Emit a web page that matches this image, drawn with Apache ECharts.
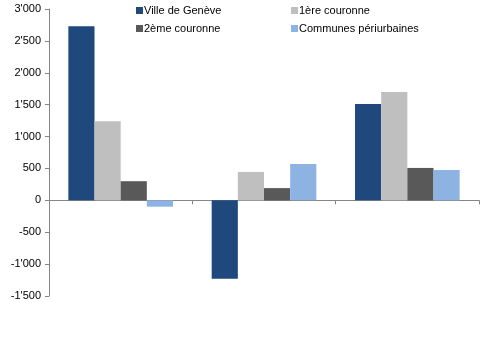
<!DOCTYPE html>
<html><head><meta charset="utf-8">
<script src="https://cdn.jsdelivr.net/npm/echarts@6/dist/echarts.min.js"></script>
<style>html,body{margin:0;padding:0;background:#fff}#c{width:487px;height:340px}</style>
</head><body><div id="c"></div>
<script>
var categories = ['A', 'B', 'C'];
var seriesNames = ['Ville de Genève', '1ère couronne', '2ème couronne', 'Communes périurbaines'];
var villeGeneve = [2730, -1230, 1510];
var premiereCouronne = [1240, 445, 1700];
var deuxiemeCouronne = [300, 192, 508];
var communesPeriurbaines = [-100, 570, 476];
var yTicks = [-1500, -1000, -500, 0, 500, 1000, 1500, 2000, 2500, 3000];

var colors = ['#1F497D', '#BFBFBF', '#595959', '#8DB3E2'];
var allData = [villeGeneve, premiereCouronne, deuxiemeCouronne, communesPeriurbaines];

function fmt(v) {
  var s = Math.abs(v).toString();
  var out = s.replace(/\B(?=(\d{3})+(?!\d))/g, "'");
  return (v < 0 ? '-' : '') + out;
}

var chart = echarts.init(document.getElementById('c'), null, {renderer: 'canvas'});
var font = 'Liberation Sans, Arial, sans-serif';
var legendText = {fontFamily: font, fontSize: 11, color: '#000', padding: [0, 0, 0, -4]};
chart.setOption({
  animation: false,
  color: colors,
  grid: {left: 49, right: 8, top: 9, bottom: 44, containLabel: false},
  legend: [{
    data: [seriesNames[0], seriesNames[2]],
    orient: 'vertical', left: 136, top: 5, padding: 0,
    itemWidth: 7, itemHeight: 7, itemGap: 7, icon: 'rect',
    textStyle: legendText
  }, {
    data: [seriesNames[1], seriesNames[3]],
    orient: 'vertical', left: 291, top: 5, padding: 0,
    itemWidth: 7, itemHeight: 7, itemGap: 7, icon: 'rect',
    textStyle: legendText
  }],
  xAxis: {
    type: 'category', data: categories,
    axisLine: {onZero: true, lineStyle: {color: '#868686', width: 1}},
    axisTick: {show: true, alignWithLabel: false, length: 4, lineStyle: {color: '#868686'}},
    axisLabel: {show: false},
    splitLine: {show: false}
  },
  yAxis: {
    type: 'value', min: yTicks[0], max: yTicks[yTicks.length - 1], interval: 500,
    axisLine: {show: true, lineStyle: {color: '#868686'}},
    axisTick: {show: true, length: 4, lineStyle: {color: '#868686'}},
    axisLabel: {formatter: fmt, fontFamily: font, fontSize: 11, color: '#000', margin: 8},
    splitLine: {show: false}
  },
  series: seriesNames.map(function (n, i) {
    return {
      name: n, type: 'bar', data: allData[i],
      barGap: '0%', barCategoryGap: '27%',
      itemStyle: {color: colors[i]}
    };
  })
});
</script></body></html>
